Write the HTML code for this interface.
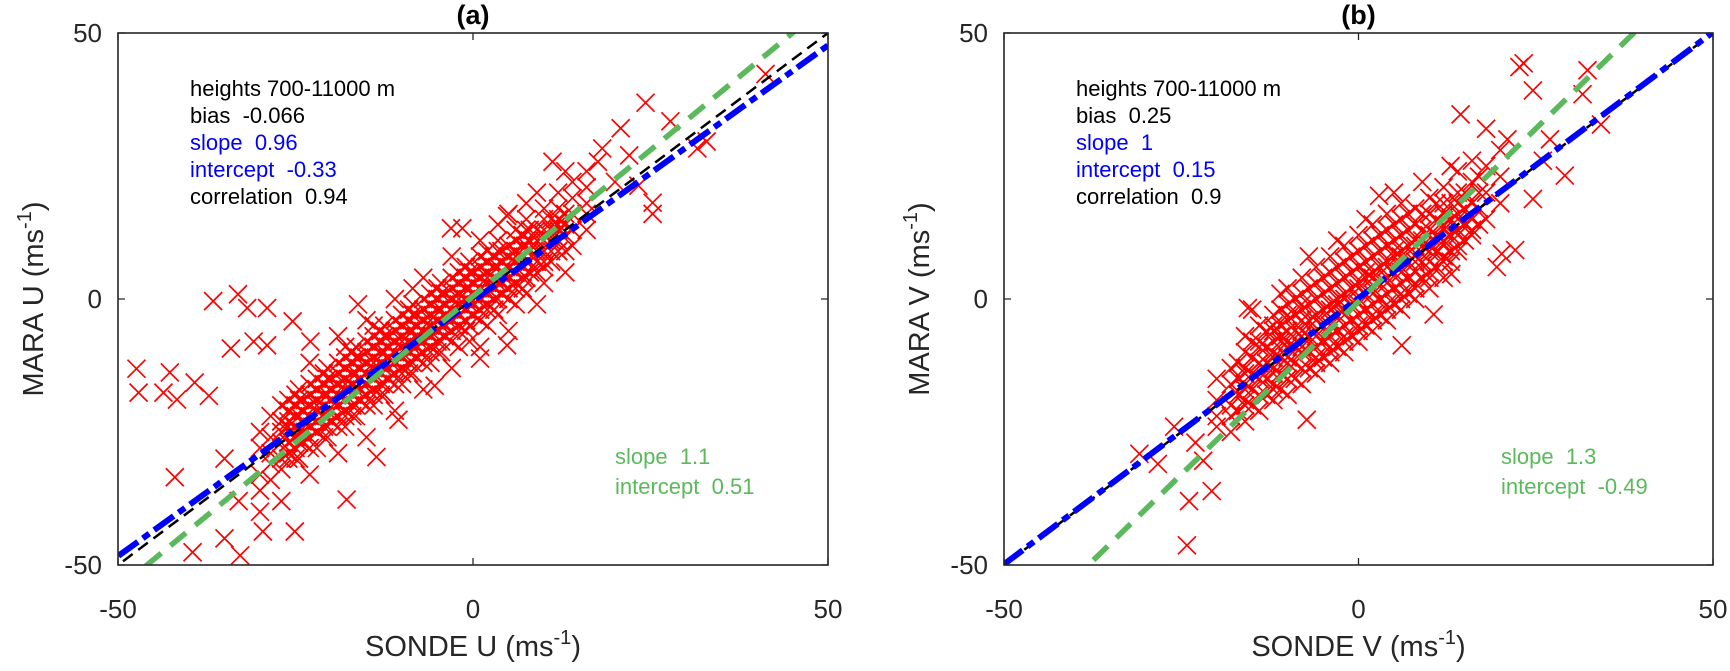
<!DOCTYPE html>
<html><head><meta charset="utf-8">
<style>
html,body{margin:0;padding:0;background:#fff;overflow:hidden;width:1730px;height:671px;}
svg{display:block;font-family:"Liberation Sans",Arial,sans-serif;}
text{white-space:pre;}
</style></head>
<body>
<svg id="chart" width="1730" height="671" viewBox="0 0 1730 671" xmlns="http://www.w3.org/2000/svg"></svg>
<script>
// ---- data ----
const tickValues = [-50, 0, 50];
const tickLabels = ["-50", "0", "50"];
const panelTitles = ["(a)", "(b)"];
const xTitles = ["SONDE U", "SONDE V"];
const yTitles = ["MARA U", "MARA V"];
const statLinesA = ["heights 700-11000 m", "bias  -0.066", "slope  0.96", "intercept  -0.33", "correlation  0.94"];
const statLinesB = ["heights 700-11000 m", "bias  0.25", "slope  1", "intercept  0.15", "correlation  0.9"];
const statColors = ["#000", "#000", "#0000ff", "#0000ff", "#000"];
const greenLinesA = ["slope  1.1", "intercept  0.51"];
const greenLinesB = ["slope  1.3", "intercept  -0.49"];
const fitA = {slope: 0.96, intercept: -0.33};
const fitB = {slope: 1.0, intercept: 0.15};
const altFitA = {slope: 1.1, intercept: 0.51};
const altFitB = {slope: 1.3, intercept: -0.49};
// core points grouped as [x, [y values]]
const coreA = [
 [-30,[-33,-28,-25,-36]],[-28.5,[-31,-26,-22,-29,-34]],[-26,[-30,-24,-21,-27,-19]],
 [-24.5,[-27,-22,-19,-25,-17,-30]],[-22,[-25,-20,-17,-23,-15,-28]],[-20.5,[-24,-18,-15,-21,-13,-26]],
 [-18,[-22,-16,-13,-19,-11,-24,-9]],[-16.5,[-20,-14,-11,-17,-9,-22]],[-14,[-18,-12,-9,-15,-7,-20,-5]],
 [-12.5,[-16,-10,-7,-13,-5,-18]],[-10,[-14,-8,-5,-11,-3,-16]],[-8.5,[-12,-6,-3,-9,-1,-14,2]],
 [-6,[-10,-4,-1,-7,1,-12]],[-4.5,[-8,-2,1,-5,3,-10]],[-2,[-6,0,3,-3,5,-9]],[-0.5,[-5,2,5,-1,7,-8]],
 [2,[-2,4,7,1,9,-5]],[3.5,[0,6,9,3,11,-3,14]],[6,[2,8,11,5,13,-1]],[7.5,[4,10,13,7,15,1,18]],
 [10,[6,12,15,9,17,3]],[12,[9,14,17,11,20]],[14,[10,16,19,13,22]],[16,[13,18,21,16,24]],
 [-27,[-38,-23]],[-23,[-33,-12]],[-19,[-29,-7]],[-15,[-26,-4]],[-11,[-21,0]],[-7,[-17,4]],[-3,[-13,8]],[1,[-9,11]],[5,[-6,16]],[9,[-1,20]],[13,[5,24]]
];
const denseA = [
 [-27,[-32,-30,-27,-25,-23,-20]],[-25,[-30,-28,-26,-24,-22,-20,-18]],[-23,[-28,-26,-24,-22,-20,-18,-16]],
 [-21,[-26,-24,-22,-20,-18,-16,-14]],[-19,[-24,-22,-20,-18,-16,-14,-12]],[-17,[-22,-20,-18,-16,-14,-12,-10]],
 [-15,[-20,-18,-16,-14,-12,-10,-8]],[-13,[-18,-16,-14,-12,-10,-8,-6]],[-11,[-16,-14,-12,-10,-8,-6,-4]],
 [-9,[-14,-12,-10,-8,-6,-4,-2]],[-7,[-12,-10,-8,-6,-4,-2,0]],[-5,[-10,-8,-6,-4,-2,0,2]],
 [-3,[-8,-6,-4,-2,0,2,4]],[-1,[-6,-4,-2,0,2,4,6]],[1,[-4,-2,0,2,4,6,8]],[3,[-2,0,2,4,6,8]],
 [5,[0,2,4,6,8,10]],[7,[2,4,6,8,10,12]],[9,[5,7,9,11,13]],[11,[7,9,11,13,15]],[13,[9,12,14,16]]
];
const denseA2 = [
 [-26,[-29,-27,-25,-23,-21]],[-24,[-27,-25,-23,-21,-19]],[-22,[-25,-23,-21,-19,-17]],
 [-20,[-23,-21,-19,-17,-15]],[-18,[-21,-19,-17,-15,-13]],[-16,[-19,-17,-15,-13,-11]],
 [-14,[-17,-15,-13,-11,-9]],[-12,[-15,-13,-11,-9,-7]],[-10,[-13,-11,-9,-7,-5]],
 [-8,[-11,-9,-7,-5,-3]],[-6,[-9,-7,-5,-3,-1]],[-4,[-7,-5,-3,-1,1]],[-2,[-5,-3,-1,1,3]],
 [0,[-3,-1,1,3,5]],[2,[-1,1,3,5,7]],[4,[1,3,5,7,9]],[6,[3,5,7,9,11]],[8,[5,7,9,11,13]],
 [10,[7,9,11,13]],[12,[9,11,13,15]]
];
const outA = [
 [-47.1,-17.6],[-47.4,-13.1],[-42.7,-13.8],[-43.6,-17.6],[-39.2,-15.7],[-37.2,-18.2],[-41.7,-18.9],
 [-36.6,-0.4],[-33.1,0.9],[-31.8,-1.7],[-29,-1.7],[-25.4,-4.2],[-34.1,-9.3],[-30.9,-8],[-29,-8.7],
 [-3.1,13.3],[-1.5,13.3],[-16.2,-1],[-22.9,-8],[-42,-33.5],[-35,-45],[-39.5,-47.6],[-32.8,-48.2],
 [-29.6,-43.7],[-25.1,-43.7],[-17.8,-37.7],[-13.6,-29.7],[24.3,36.9],[20.8,32.1],[25.3,16],[25.3,18.1],
 [32.9,29.6],[41.2,42.3],[27.8,33.4],[18.2,28.3],[17.6,25.8],[11.2,25.8],[4.8,15.6],[4.8,-8.7],
 [1,-11.2],[-5.4,-16.3],[-10.5,-22.7],[31.6,28.3],[23.3,21.3],[-33,-38],[-30,-40],[-35,-30],[20,22],[22,27]
];
const coreB = [
 [-20,[-24,-19,-15,-22]],[-18,[-22,-16,-13,-20,-25]],[-16,[-20,-14,-10,-17,-23,-7]],
 [-14,[-18,-12,-8,-15,-21,-5]],[-12,[-16,-10,-6,-13,-19,-3]],[-10,[-15,-8,-4,-11,-18,-1,2]],
 [-8,[-13,-6,-2,-9,-16,1,4]],[-6,[-11,-4,0,-7,-14,3,6]],[-4,[-9,-2,2,-5,-12,5,8]],
 [-2,[-7,0,4,-3,-10,7,10]],[0,[-5,2,6,-1,-8,9,12]],[2,[-3,4,8,1,-6,11,14]],
 [4,[-1,6,10,3,-4,13,16]],[6,[1,8,12,5,-2,15,18]],[8,[3,10,14,7,0,17]],[10,[5,12,16,9,2,19]],
 [12,[8,14,18,11,4,21]],[14,[10,16,20,13,24]],[16,[13,18,22,15,26]],[18,[15,20,25]],[20,[18,23,28]],
 [-15,[-11,-2]],[-11,[-7,1]],[-7,[-4,8]],[-3,[-1,11]],[1,[5,15]],[5,[9,20]],[9,[11,22]],[13,[7,25]]
];
const denseB = [
 [-17,[-21,-18,-15,-12]],[-15,[-20,-17,-14,-11,-8]],[-13,[-18,-15,-12,-9,-6]],
 [-11,[-17,-14,-11,-8,-5,-2]],[-9,[-15,-12,-9,-6,-3,0]],[-7,[-13,-10,-7,-4,-1,2]],
 [-5,[-11,-8,-5,-2,1,4]],[-3,[-9,-6,-3,0,3,6]],[-1,[-7,-4,-1,2,5,8]],[1,[-5,-2,1,4,7,10]],
 [3,[-3,0,3,6,9,12]],[5,[-1,2,5,8,11,14]],[7,[1,4,7,10,13,16]],[9,[4,7,10,13,16]],
 [11,[6,9,12,15,18]],[13,[9,12,15,18]],[15,[11,14,17,20]],[17,[14,17,20,23]]
];
const denseB2 = [
 [-16,[-19,-16,-13]],[-14,[-18,-15,-12,-9]],[-12,[-17,-14,-11,-8,-5]],[-10,[-15,-12,-9,-6,-3]],
 [-8,[-13,-10,-7,-4,-1]],[-6,[-12,-9,-6,-3,0,3]],[-4,[-10,-7,-4,-1,2,5]],[-2,[-8,-5,-2,1,4,7]],
 [0,[-6,-3,0,3,6,9]],[2,[-4,-1,2,5,8,11]],[4,[-2,1,4,7,10,13]],[6,[0,3,6,9,12,15]],
 [8,[2,5,8,11,14]],[10,[4,7,10,13,16]],[12,[7,10,13,16]],[14,[9,12,15,18]],[16,[12,15,18]]
];
const outB = [
 [23.3,44.3],[22.7,43.6],[32.3,43],[31.6,38.5],[24.6,39.2],[34.2,32.8],[29.1,23.2],[22.1,9.2],
 [20.2,8.5],[19.5,6],[24.6,18.8],[14.4,34.7],[2.9,19.4],[-15.6,-1.7],[-30.9,-29.1],[-28.3,-31],
 [-23.9,-38],[-20.7,-36.1],[-21.9,-30.4],[-24.2,-46.3],[-7.3,-22.7],[6.1,-8.7],[10.6,-2.9],[13.1,4.7],
 [-26,-24],[-23,-27],[27,30],[26,26],[21,30],[18,32]
];

// ---- drawing ----
const NS = "http://www.w3.org/2000/svg";
const svg = document.getElementById("chart");
function mk(tag, attrs, parent) {
  const e = document.createElementNS(NS, tag);
  for (const k in attrs) e.setAttribute(k, attrs[k]);
  (parent || svg).appendChild(e);
  return e;
}
const panels = [
  {L:118, R:828, T:33, B:565, core:coreA.concat(denseA, denseA2), out:outA, fit:fitA, alt:altFitA, stats:statLinesA, green:greenLinesA, id:"a"},
  {L:1004, R:1713, T:33, B:565, core:coreB.concat(denseB, denseB2), out:outB, fit:fitB, alt:altFitB, stats:statLinesB, green:greenLinesB, id:"b"}
];
panels.forEach((p, i) => {
  const sx = v => p.L + (v + 50) / 100 * (p.R - p.L);
  const sy = v => p.B - (v + 50) / 100 * (p.B - p.T);
  const g = mk("g", {});
  
  
  const clipId = "clip" + i;
  const cp = mk("clipPath", {id: clipId}, g);
  mk("rect", {x: p.L, y: p.T, width: p.R - p.L, height: p.B - p.T}, cp);
  const pts = mk("g", {stroke: "#ff0000", "stroke-width": 1.7, fill: "none", "clip-path": "url(#" + clipId + ")"}, g);
  
  
  const all = [];
  p.core.forEach(c => c[1].forEach(y => all.push([c[0], y])));
  p.out.forEach(o => all.push(o));
  const h = 9;
  all.forEach(pt => {
    const x = sx(pt[0]), y = sy(pt[1]);
    const m = mk("path", {d: `M${x-h},${y-h}L${x+h},${y+h}M${x-h},${y+h}L${x+h},${y-h}`}, pts);
    
    
  });
  const lines = mk("g", {"clip-path": "url(#" + clipId + ")", fill: "none"}, g);
  function fitLine(f, color, w, dash, name) {
    const l = mk("line", {x1: sx(-60), y1: sy(f.slope * -60 + f.intercept), x2: sx(60), y2: sy(f.slope * 60 + f.intercept), stroke: color, "stroke-width": w, "stroke-dasharray": dash}, lines);
    
    
  }
  fitLine({slope: 1, intercept: 0}, "#000", 2.5, "12 7", "one-to-one-line");
  fitLine(p.fit, "#0000ff", 6, "24 6 8 6", "fit-line-blue");
  fitLine(p.alt, "#5cb85c", 5.5, "20 12", "fit-line-green");
  const box = mk("rect", {x: p.L, y: p.T, width: p.R - p.L, height: p.B - p.T, fill: "none", stroke: "#262626", "stroke-width": 1.6}, g);
  
  
  tickValues.forEach((v, k) => {
    const x = sx(v), y = sy(v);
    mk("path", {d: `M${x},${p.B}v-7M${x},${p.T}v7M${p.L},${y}h7M${p.R},${y}h-7`, stroke: "#262626", "stroke-width": 1.3}, g);
    const xl = mk("text", {x: x, y: 618, "text-anchor": "middle", "font-size": 26, fill: "#262626"}, g);
    xl.textContent = tickLabels[k];
    
    
    const yl = mk("text", {x: p.L - 16, y: y + 9, "text-anchor": "end", "font-size": 26, fill: "#262626"}, g);
    yl.textContent = tickLabels[k];
    
    
  });
  const cx = (p.L + p.R) / 2;
  const t = mk("text", {x: cx, y: 24, "text-anchor": "middle", "font-size": 27, "font-weight": "bold", fill: "#000"}, g);
  t.textContent = panelTitles[i];
  
  
  const xt = mk("text", {x: cx, y: 656, "text-anchor": "middle", "font-size": 29, fill: "#262626"}, g);
  xt.innerHTML = xTitles[i] + ' (ms<tspan dy="-12" font-size="20">-1</tspan><tspan dy="12">)</tspan>';
  
  
  const ycx = p.L - 85, ycy = (p.T + p.B) / 2;
  const yt = mk("text", {x: ycx, y: ycy + 10, "text-anchor": "middle", "font-size": 29, fill: "#262626", transform: `rotate(-90 ${ycx} ${ycy})`}, g);
  yt.innerHTML = yTitles[i] + ' (ms<tspan dy="-12" font-size="20">-1</tspan><tspan dy="12">)</tspan>';
  
  
  p.stats.forEach((s, k) => {
    const st = mk("text", {x: p.L + 72, y: 96 + k * 27, "font-size": 22, fill: statColors[k]}, g);
    st.textContent = s;
    
    
  });
  p.green.forEach((s, k) => {
    const st = mk("text", {x: p.L + 497, y: 464 + k * 30, "font-size": 22, fill: "#5cb85c"}, g);
    st.textContent = s;
    
    
  });
});
</script>
</body></html>
